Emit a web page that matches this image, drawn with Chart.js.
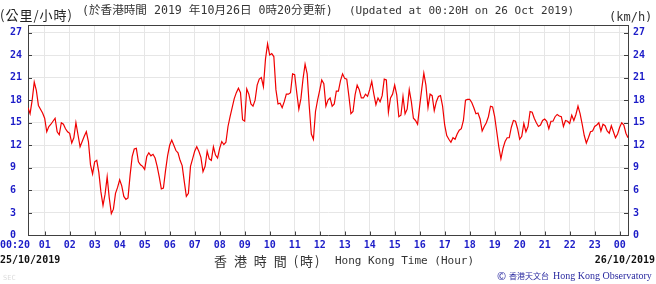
<!DOCTYPE html>
<html>
<head>
<meta charset="utf-8">
<script src="https://cdn.jsdelivr.net/npm/chart.js@4.4.1/dist/chart.umd.min.js"></script>
<style>
    html, body { margin: 0; padding: 0; background: #fff; }
    #wrap { position: relative; width: 656px; height: 284px; }
</style>
</head>
<body>
<div id="wrap"><canvas id="windChart" width="656" height="284"></canvas></div>
<script>
// ============================================
// DATA (10-min mean wind speed, every 5 minutes from 00:20)
// ============================================

const startHour = 20 / 60;
const stepHours = 5 / 60;

const windSpeed = [
    17.0, 16.2, 18.0, 20.4, 19.3, 17.3, 16.8, 16.3,
    15.6, 13.8, 14.5, 14.8, 15.2, 15.6, 13.8, 13.4, 15.0, 14.8, 14.2, 13.8,
    13.6, 12.3, 13.0, 15.0, 13.4, 11.8, 12.5, 13.2, 13.8, 12.5, 9.4, 8.2,
    9.8, 10.0, 8.4, 5.8, 4.0, 5.5, 7.8, 5.0, 2.9, 3.5, 5.6, 6.4,
    7.4, 6.6, 5.2, 4.8, 5.0, 8.0, 10.5, 11.5, 11.6, 9.8, 9.4, 9.2,
    8.8, 10.5, 11.0, 10.6, 10.8, 10.3, 9.2, 7.8, 6.2, 6.3, 8.6, 10.6,
    12.0, 12.7, 12.0, 11.3, 11.0, 10.0, 9.3, 7.2, 5.2, 5.6, 9.2, 10.2,
    11.2, 11.8, 11.2, 10.4, 8.5, 9.2, 11.2, 10.2, 10.0, 11.8, 10.7, 10.3,
    11.6, 12.5, 12.1, 12.4, 14.5, 15.8, 17.0, 18.2, 19.0, 19.6, 19.0, 15.4,
    15.2, 19.5, 18.8, 17.5, 17.2, 18.0, 20.0, 20.8, 21.0, 19.8, 23.5, 25.5,
    24.0, 24.2, 23.8, 19.4, 17.5, 17.6, 17.0, 17.8, 18.8, 18.8, 19.0, 21.5,
    21.4, 19.0, 16.8, 18.2, 20.8, 22.8, 21.5, 17.2, 13.5, 12.8, 16.5, 18.0,
    19.3, 20.7, 20.2, 17.2, 18.0, 18.3, 17.2, 17.5, 19.2, 19.2, 20.6, 21.5,
    20.9, 20.8, 18.6, 16.2, 16.5, 18.7, 20.0, 19.4, 18.3, 18.3, 18.8, 18.5,
    19.4, 20.5, 18.8, 17.4, 18.3, 17.8, 18.6, 20.8, 20.7, 16.4, 18.3, 18.8,
    20.0, 18.7, 15.8, 16.0, 18.5, 16.2, 16.8, 19.4, 17.8, 15.6, 15.3, 14.8,
    17.2, 19.5, 21.6, 20.0, 17.0, 18.8, 18.6, 16.6, 17.8, 18.5, 18.6, 17.2,
    14.7, 13.3, 12.8, 12.4, 13.0, 12.8, 13.5, 14.0, 14.2, 15.3, 18.0, 18.1,
    18.1, 17.7, 17.0, 16.2, 16.3, 15.5, 13.9, 14.5, 15.0, 15.8, 17.2, 17.1,
    15.8, 13.8, 11.8, 10.2, 11.6, 12.5, 13.0, 13.0, 14.4, 15.3, 15.2, 14.2,
    12.8, 13.2, 14.9, 13.8, 14.5, 16.5, 16.4, 15.6, 15.0, 14.5, 14.7, 15.3,
    15.5, 15.2, 14.2, 15.2, 15.2, 15.8, 16.1, 15.9, 15.8, 14.5, 15.3, 15.2,
    14.9, 16.0, 15.3, 16.1, 17.2, 16.2, 14.8, 13.3, 12.3, 13.0, 13.8, 13.9,
    14.5, 14.7, 15.0, 13.9, 14.8, 14.6, 13.9, 13.6, 14.6, 13.8, 13.0, 13.5,
    14.4, 15.0, 14.7, 13.6, 13.0
];

const hourTicks = [startHour, 1, 2, 3, 4, 5, 6, 7, 8, 9, 10, 11, 12,
    13, 14, 15, 16, 17, 18, 19, 20, 21, 22, 23, 24];
const hourLabels = ['00:20', '01', '02', '03', '04', '05', '06', '07', '08', '09', '10', '11', '12',
    '13', '14', '15', '16', '17', '18', '19', '20', '21', '22', '23', '00'];
const speedTicks = [0, 3, 6, 9, 12, 15, 18, 21, 24, 27];

// ============================================
// STYLE
// ============================================

const BLUE = '#1c1cc8';
const AXIS = '#404040';
const GRID = '#e6e6e6';
const MONO = "'DejaVu Sans Mono', 'Noto Sans CJK TC', monospace";
const CJK = "'Noto Sans CJK TC', sans-serif";

// extra texts, top border and inner tick marks
const decorations = {
    id: 'decorations',
    afterDraw(chart) {
        const ctx = chart.ctx;
        const area = chart.chartArea;
        const xs = chart.scales.x;
        const ys = chart.scales.y;
        ctx.save();

        ctx.strokeStyle = AXIS;
        ctx.lineWidth = 1;
        ctx.beginPath();
        ctx.moveTo(area.left, area.top + 0.5);
        ctx.lineTo(area.right, area.top + 0.5);
        hourTicks.slice(1).forEach(v => {
            const px = Math.round(xs.getPixelForValue(v)) + 0.5;
            ctx.moveTo(px, area.bottom);
            ctx.lineTo(px, area.bottom - 4);
        });
        speedTicks.slice(1).forEach(v => {
            const py = Math.round(ys.getPixelForValue(v)) + 0.5;
            ctx.moveTo(area.left, py);
            ctx.lineTo(area.left + 4, py);
            ctx.moveTo(area.right - 4, py);
            ctx.lineTo(area.right, py);
        });
        ctx.stroke();

        ctx.textBaseline = 'middle';
        ctx.textAlign = 'left';

        ctx.fillStyle = '#222';
        ctx.font = '13px ' + CJK;
        ctx.letterSpacing = '1px';
        ctx.fillText('(公里/小時)', 0, 15);
        ctx.letterSpacing = '0px';

        ctx.fillStyle = '#333';
        ctx.font = '11.6px ' + MONO;
        ctx.fillText('(於香港時間 2019 年10月26日 0時20分更新)', 82, 11);
        ctx.font = '11px ' + MONO;
        ctx.fillText('(Updated at 00:20H on 26 Oct 2019)', 349, 11);
        ctx.font = '12px ' + MONO;
        ctx.fillText('(km/h)', 609, 18);

        ctx.fillStyle = BLUE;
        ctx.font = 'bold 10px ' + MONO;
        ctx.fillText(hourLabels[0], 0, 245);

        ctx.fillStyle = '#111';
        ctx.font = 'bold 10px ' + MONO;
        ctx.fillText('25/10/2019', 0, 260);
        ctx.textAlign = 'right';
        ctx.fillText('26/10/2019', 655, 260);
        ctx.textAlign = 'left';

        ctx.fillStyle = '#333';
        ctx.font = '13px ' + CJK;
        ctx.letterSpacing = '2px';
        ctx.fillText('香 港 時 間 (時)', 214, 261);
        ctx.letterSpacing = '0px';
        ctx.font = '11px ' + MONO;
        ctx.fillText('Hong Kong Time (Hour)', 335, 261);

        ctx.fillStyle = '#2a2aa0';
        ctx.font = '11px ' + CJK;
        ctx.fillText('©', 497, 276);
        ctx.font = '8px ' + CJK;
        ctx.fillText('香港天文台', 509, 276);
        ctx.font = "10px 'Liberation Serif', serif";
        ctx.fillText('Hong Kong Observatory', 553, 276);

        ctx.fillStyle = '#dcdcdc';
        ctx.font = '7px ' + MONO;
        ctx.fillText('SEC', 3, 278);

        ctx.restore();
    }
};

// ============================================
// CHART
// ============================================

const points = windSpeed.map((v, i) => ({ x: startHour + i * stepHours, y: v }));

new Chart(document.getElementById('windChart'), {
    type: 'line',
    data: {
        datasets: [{
            data: points,
            borderColor: '#f00000',
            borderWidth: 1.2,
            pointRadius: 0,
            tension: 0,
            fill: false
        }]
    },
    options: {
        responsive: false,
        animation: false,
        devicePixelRatio: 1,
        layout: { padding: { top: 25, left: 10, right: 0, bottom: 0 } },
        plugins: {
            legend: { display: false },
            tooltip: { enabled: false }
        },
        scales: {
            x: {
                type: 'linear',
                min: startHour,
                max: 24 + startHour,
                afterBuildTicks: scale => { scale.ticks = hourTicks.map(v => ({ value: v })); },
                afterFit: scale => { scale.height = 48.5; },
                grid: { color: GRID, drawTicks: false },
                border: { color: AXIS },
                ticks: {
                    color: BLUE,
                    font: { family: MONO, size: 10, weight: 'bold' },
                    padding: 4,
                    maxRotation: 0,
                    autoSkip: false,
                    callback: (value, index) => index === 0 ? '' : hourLabels[index]
                }
            },
            y: {
                position: 'left',
                min: 0,
                max: 28,
                afterBuildTicks: scale => { scale.ticks = speedTicks.map(v => ({ value: v })); },
                afterFit: scale => { scale.width = 18; },
                grid: { color: GRID, drawTicks: false },
                border: { color: AXIS },
                ticks: {
                    color: BLUE,
                    crossAlign: 'far',
                    font: { family: MONO, size: 10, weight: 'bold' },
                    padding: 6
                }
            },
            y2: {
                position: 'right',
                min: 0,
                max: 28,
                afterBuildTicks: scale => { scale.ticks = speedTicks.map(v => ({ value: v })); },
                afterFit: scale => { scale.width = 28; },
                grid: { drawOnChartArea: false, drawTicks: false },
                border: { color: AXIS },
                ticks: {
                    color: BLUE,
                    font: { family: MONO, size: 10, weight: 'bold' },
                    padding: 5
                }
            }
        }
    },
    plugins: [decorations]
});
</script>
</body>
</html>
